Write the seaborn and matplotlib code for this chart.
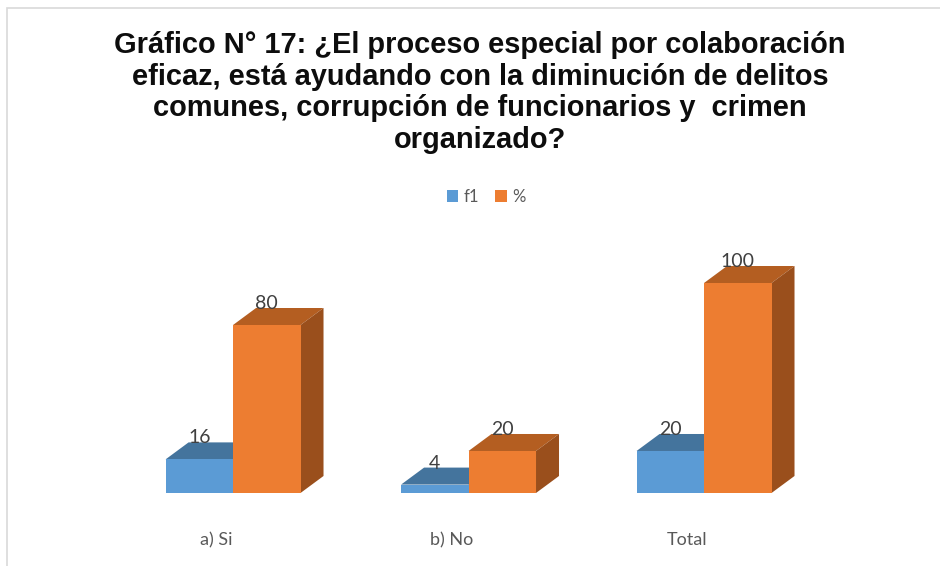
import matplotlib
matplotlib.use("Agg")
import matplotlib.pyplot as plt
import matplotlib.transforms as mtransforms
from matplotlib.patches import Polygon, Rectangle
import seaborn as sns
import pandas as pd

categories = ["a) Si", "b) No", "Total"]
series_names = ["f1", "%"]
f1_values = [16, 4, 20]
pct_values = [80, 20, 100]
title_text = ("Gráfico N° 17: ¿El proceso especial por colaboración\n"
              "eficaz, está ayudando con la diminución de delitos\n"
              "comunes, corrupción de funcionarios y  crimen\n"
              "organizado?")

df = pd.DataFrame({
    "cat": categories * 2,
    "serie": [series_names[0]] * 3 + [series_names[1]] * 3,
    "valor": f1_values + pct_values,
})

sns.set_theme(style="white")
plt.rcParams["font.family"] = ["Lato", "DejaVu Sans"]

front = {"f1": "#5B9BD5", "%": "#ED7D31"}
top_c = {"f1": "#44749D", "%": "#B45E21"}
side_c = {"f1": "#3F6A90", "%": "#9A4F1C"}

fig = plt.figure(figsize=(9.4, 5.66), dpi=100)
fig.patch.set_facecolor("white")
ax = fig.add_axes([0.0976, 0.129, 0.8017, 0.4823])

sns.barplot(data=df, x="cat", y="valor", hue="serie", order=categories,
            hue_order=series_names, palette=front, width=0.573,
            saturation=1, ax=ax, legend=False, edgecolor="none")

ax.set_xlim(-0.6, 2.6)
ax.set_ylim(0, 130)

dx = 23 / 235.5
dy = 17 / 2.1

for container, name in zip(ax.containers, series_names):
    zf = 2 if name == "f1" else 3
    z3 = 1 if name == "f1" else 2
    for bar in container:
        x = bar.get_x(); w = bar.get_width(); h = bar.get_height()
        bar.set_zorder(zf)
        top = Polygon([(x, h), (x + w, h), (x + w + dx, h + dy), (x + dx, h + dy)],
                      closed=True, facecolor=top_c[name], edgecolor="none", zorder=z3)
        side = Polygon([(x + w, 0), (x + w, h), (x + w + dx, h + dy), (x + w + dx, dy)],
                       closed=True, facecolor=side_c[name], edgecolor="none", zorder=z3)
        ax.add_patch(top)
        ax.add_patch(side)
        ax.text(x + w / 2, h + dy - 0.5, f"{h:g}", ha="center", va="baseline",
                fontsize=14, color="#404040", zorder=5)

ax.set_xlabel("")
ax.set_ylabel("")
ax.set_yticks([])
ax.tick_params(axis="x", length=0, pad=28, labelsize=13, labelcolor="#595959")
offset = mtransforms.ScaledTranslation(-17 / 100, 0, fig.dpi_scale_trans)
for lbl in ax.get_xticklabels():
    lbl.set_transform(lbl.get_transform() + offset)
for s in ax.spines.values():
    s.set_visible(False)

handles = [Rectangle((0, 0), 1, 1, facecolor=front[n], edgecolor="none") for n in series_names]
fig.legend(handles, series_names, loc="center", bbox_to_anchor=(486 / 940, 1 - 197 / 566),
           ncol=2, frameon=False, handlelength=0.7, handleheight=0.7, handletextpad=0.3,
           columnspacing=1.0, prop={"size": 12}, labelcolor="#595959")

fig.text(480 / 940, 1 - 31 / 566, title_text, ha="center", va="top",
         fontsize=20.9, fontweight="bold", linespacing=1.16, color="#0D0D0D",
         family=["Liberation Sans", "DejaVu Sans"])

fig.add_artist(Rectangle((7.5 / 940, -0.1), 1.2, 1 - 7.5 / 566 + 0.1,
                         transform=fig.transFigure, facecolor="none",
                         edgecolor="#D9D9D9", linewidth=1.2))

fig.savefig("out.png", dpi=100)
